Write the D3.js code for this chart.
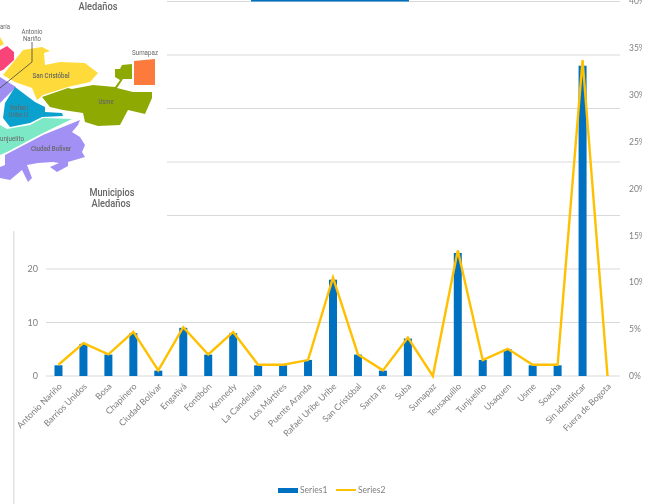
<!DOCTYPE html>
<html><head><meta charset="utf-8">
<script src="https://cdnjs.cloudflare.com/ajax/libs/d3/7.8.5/d3.min.js"></script>
<style>
html,body{margin:0;padding:0;background:#fff;overflow:hidden}
svg{display:block;filter:blur(0.35px)}
text{font-family:Lato,"Open Sans",sans-serif}
</style></head><body>
<svg id="c" width="648" height="504"></svg>
<script>
const categories=["Antonio Nariño","Barrios Unidos","Bosa","Chapinero","Ciudad Bolívar","Engativá","Fontibón","Kennedy","La Candelaria","Los Mártires","Puente Aranda","Rafael Uribe Uribe","San Cristóbal","Santa Fe","Suba","Sumapaz","Teusaquillo","Tunjuelito","Usaquen","Usme","Soacha","Sin identificar","Fuera de Bogota"];
const series1=[2,6,4,8,1,9,4,8,2,2,3,18,4,1,7,0,23,3,5,2,2,58,0];
const series2=[1.2,3.5,2.3,4.7,0.6,5.2,2.3,4.7,1.2,1.2,1.7,10.5,2.3,0.6,4.1,0,13.4,1.7,2.9,1.2,1.2,33.7,0];
const leftTicks=[0,10,20,30,40,50,60,70];
const rightTicks=[0,5,10,15,20,25,30,35,40];
const legendLabels=["Series1","Series2"];

// Inset map illustration (shapes and names)
const mapShapes=[
 {fill:"#fedb3a",pts:[[0,37],[4,44],[0,46]]},
 {fill:"#fedb3a",pts:[[3,75],[23,50],[42,47],[50,51],[44,53],[45,65],[60,62],[85,63],[98,73],[90,82],[68,87],[43,95],[37,100],[32,88],[15,82]]},
 {fill:"#f9447a",pts:[[0,50],[7,46],[14,52],[14,60],[3,70],[0,71]]},
 {fill:"#a08ff2",pts:[[0,77],[16,87],[0,103]]},
 {fill:"#0ba1cf",pts:[[15,87],[35,102],[45,107],[45,112],[62,113],[63,116],[42,117],[30,123],[10,127],[3,118],[5,103]]},
 {fill:"#7de8c6",pts:[[0,125],[7,129],[30,125],[43,118],[72,119],[43,133],[7,152],[0,155]]},
 {fill:"#a390f5",pts:[[80,120],[78,125],[72,132],[80,137],[85,145],[82,152],[85,157],[68,162],[68,166],[57,172],[50,167],[59,163],[53,162],[38,163],[27,165],[32,178],[28,182],[22,170],[10,180],[0,178],[0,167],[5,165],[5,155],[43,135]]},
 {fill:"#8fa903",pts:[[42,97],[68,88],[72,89],[93,85],[115,87],[120,80],[115,77],[115,69],[120,69],[122,65],[132,64],[132,79],[123,79],[117,88],[133,92],[152,92],[152,98],[145,114],[128,110],[120,125],[98,126],[85,122],[83,113],[63,110],[50,107]]},
 {fill:"#fb7a3c",pts:[[134,61],[155,59],[155,85],[134,85]]}
];
const mapLabels=[
 {t:"Aledaños",x:98,y:10,s:11,w:500,l:39},
 {t:"Municipios",x:112,y:196,s:11,w:500,l:45},
 {t:"Aledaños",x:111,y:207,s:11,w:500,l:39},
 {t:"Antonio",x:32,y:34,s:6.5,w:400,l:21},
 {t:"Nariño",x:32,y:41,s:6.5,w:400,l:18},
 {t:"aría",x:5,y:29,s:6.5,w:400,l:10},
 {t:"Sumapaz",x:145,y:55,s:6.5,w:400,l:26},
 {t:"San Cristóbal",x:51,y:78,s:7,w:500,l:37},
 {t:"Usme",x:106,y:104,s:7,w:500,l:15},
 {t:"Rafael",x:19,y:110,s:6.5,w:400,l:18},
 {t:"Uribe U.",x:19,y:117,s:6.5,w:400,l:21},
 {t:"unjuelito",x:12,y:141,s:7,w:400,l:24},
 {t:"Ciudad Bolívar",x:51,y:151,s:7,w:500,l:40}
];
const mapLeader=[[32,42],[32,62],[0,88]];

const svg=d3.select("#c");
const grey="#7f7f7f", gridCol="#d9d9d9", blue="#0070c0", gold="#ffc000";
const x=d3.scaleBand().domain(categories).range([46,620]);
const yL=d3.scaleLinear().domain([0,70]).range([376,1.5]);
const yR=d3.scaleLinear().domain([0,40]).range([376,1]);
const cx=d=>x(d)+x.bandwidth()/2;

// gridlines
svg.append("g").selectAll("line").data(leftTicks).join("line")
 .attr("x1",46).attr("x2",620).attr("y1",d=>yL(d)).attr("y2",d=>yL(d))
 .attr("stroke",gridCol).attr("stroke-width",1);

// left axis
const gl=svg.append("g").attr("transform","translate(46,0)").call(d3.axisLeft(yL).tickValues(leftTicks).tickSize(0).tickPadding(8));
gl.select(".domain").remove();
gl.selectAll("text").attr("fill",grey).style("font-size","9px");

// right axis, cut off at the picture's edge
svg.append("defs").append("clipPath").attr("id","rc").append("rect").attr("x",620).attr("y",0).attr("width",22).attr("height",504);
const gr=svg.append("g").attr("clip-path","url(#rc)").append("g").attr("transform","translate(620,0)")
 .call(d3.axisRight(yR).tickValues(rightTicks).tickSize(0).tickPadding(9).tickFormat(d=>d+"%"));
gr.select(".domain").remove();
gr.selectAll("text").attr("fill",grey).style("font-size","8.5px");

// bars
svg.append("g").selectAll("rect").data(categories).join("rect")
 .attr("x",d=>cx(d)-4).attr("width",8)
 .attr("y",(d,i)=>yL(series1[i])).attr("height",(d,i)=>376-yL(series1[i]))
 .attr("fill",blue);

// line
svg.append("path").datum(categories)
 .attr("fill","none").attr("stroke",gold).attr("stroke-width",2.4).attr("stroke-linejoin","miter")
 .attr("d",d3.line().x(d=>cx(d)).y((d,i)=>yR(series2[i])));

// category labels
svg.append("g").selectAll("text").data(categories).join("text")
 .attr("transform",d=>`translate(${cx(d)+4},387) rotate(-45)`)
 .attr("text-anchor","end").attr("fill",grey).style("font-size","8.8px").text(d=>d);

// legend
svg.append("rect").attr("x",278).attr("y",488).attr("width",20).attr("height",5).attr("fill",blue);
svg.append("line").attr("x1",336).attr("x2",356).attr("y1",490).attr("y2",490).attr("stroke",gold).attr("stroke-width",2);
svg.append("g").selectAll("text").data(legendLabels).join("text")
 .attr("x",(d,i)=>i?358:300).attr("y",493).attr("fill",grey).style("font-size","8.5px").text(d=>d);

// frame bits
svg.append("rect").attr("x",251).attr("y",0).attr("width",158).attr("height",1.5).attr("fill",blue);
svg.append("rect").attr("x",13).attr("y",231).attr("width",1.5).attr("height",273).attr("fill","#e3e3e3");

// inset map sits over the chart's top left
const m=svg.append("g");
m.append("rect").attr("x",0).attr("y",0).attr("width",167).attr("height",230).attr("fill","#fff");
m.selectAll("path.s").data(mapShapes).join("path").attr("class","s")
 .attr("fill",d=>d.fill).attr("d",d=>d3.line()(d.pts)+"Z");
m.append("path").attr("d",d3.line()(mapLeader)).attr("fill","none").attr("stroke","#444").attr("stroke-width",.8);
m.selectAll("text").data(mapLabels).join("text")
 .attr("x",d=>d.x).attr("y",d=>d.y).attr("text-anchor","middle")
 .attr("textLength",d=>d.l).attr("lengthAdjust","spacingAndGlyphs")
 .attr("fill","#666").style("font-family","Roboto,sans-serif")
 .style("font-size",d=>d.s+"px").style("font-weight",d=>d.w).text(d=>d.t);
</script>
</body></html>
